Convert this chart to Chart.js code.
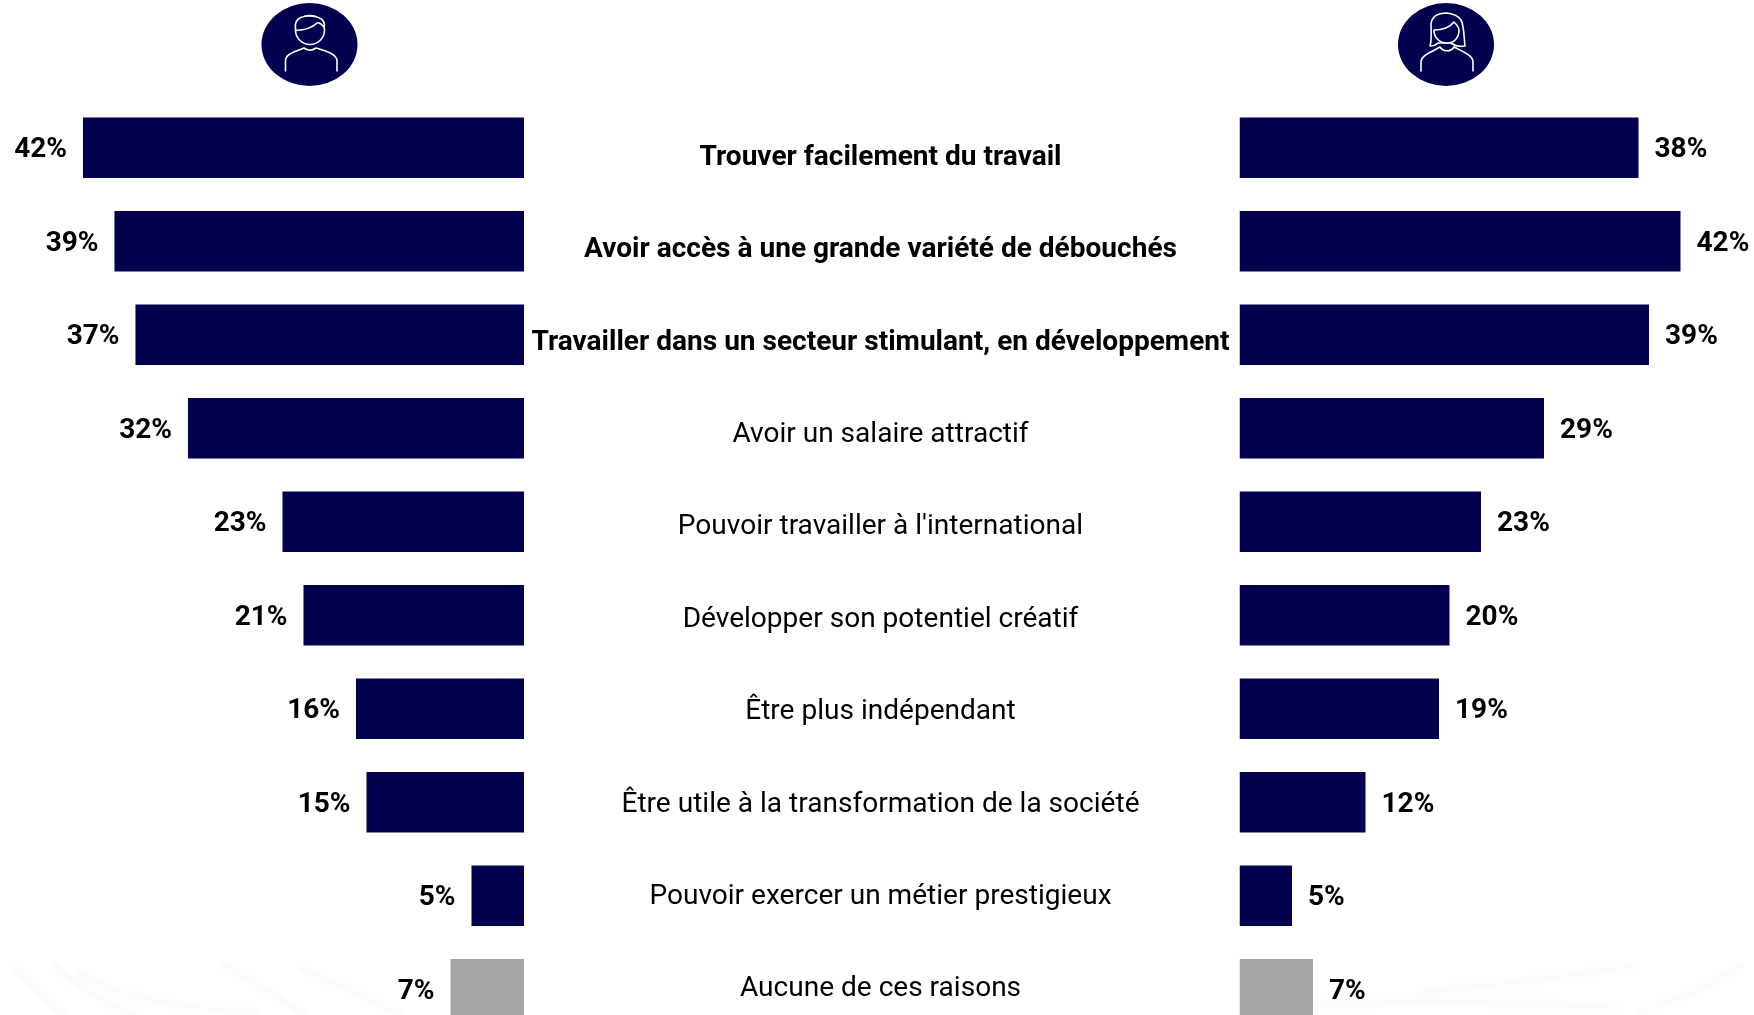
<!DOCTYPE html>
<html lang="fr">
<head>
<meta charset="utf-8">
<title>Raisons</title>
<script src="https://cdn.jsdelivr.net/npm/chart.js@4/dist/chart.umd.min.js"></script>
<style>
  html, body { margin: 0; padding: 0; background: #fff; }
  #page { position: relative; width: 1754px; height: 1015px; overflow: hidden; background: #fff; }
  #decor { position: absolute; left: 0; top: 0; }
  .box { position: absolute; top: 101px; height: 935px; }
</style>
</head>
<body>
<div id="page">
  <svg id="decor" width="1754" height="1015" fill="none" stroke="#fff" stroke-width="1.6" stroke-linecap="round" stroke-linejoin="round">
    <!-- filigrane du bas -->
    <filter id="flou"><feGaussianBlur stdDeviation="2"/></filter>
    <g stroke="#fafafa" stroke-width="7" filter="url(#flou)">
      <path d="M15 968 C30 985 45 1002 65 1015"/>
      <path d="M55 965 C75 985 105 1003 135 1015"/>
      <path d="M80 972 C120 1000 190 1008 255 1013"/>
      <path d="M225 966 C262 985 285 1003 305 1015"/>
      <path d="M300 968 C340 985 375 1003 400 1015"/>
      <path d="M1310 1006 C1400 1000 1520 1002 1620 1008"/>
      <path d="M1420 992 C1500 985 1570 976 1630 966"/>
      <path d="M1640 1012 C1680 1000 1710 985 1740 965"/>
    </g>
    <!-- homme -->
    <ellipse cx="309.5" cy="44.5" rx="48" ry="41.5" fill="#03004f" stroke="none"/>
    <circle cx="310" cy="30" r="14.5"/>
    <path d="M296 30.5 C293 20 300 16 309 16 C319 16 326 20 324 27 C321 24 319 22 317 23 C312 28 304 30 296 30.5Z" fill="#03004f"/>
    <path d="M285.5 71 V61 C285.5 54 294 52 304 48 C308 51 312 51 316 48 C326 51 337 54 337 61 V71"/>
    <!-- femme -->
    <ellipse cx="1446" cy="44.5" rx="48" ry="41.5" fill="#03004f" stroke="none"/>
    <path d="M1430 46 C1432 40 1431 28 1431 24 C1432 15 1440 13 1447 13 C1455 14 1459 17 1461 20 C1464 25 1464 38 1465 46 C1460 47 1455 46 1451 43 H1438 C1436 45 1433 46 1430 46Z"/>
    <path d="M1434 30 C1442 30 1450 27 1454 22 C1457 25 1459 28 1459 30 C1459 38 1454 43 1447 43 C1440 43 1434 38 1434 30Z" fill="#03004f"/>
    <path d="M1421 71 V62 C1421 55 1432 52 1440 47 C1443 52 1451 52 1454 47 C1461 51 1473 55 1473 62 V71"/>
  </svg>
  <div class="box" style="left:0;width:524px"><canvas id="leftChart"></canvas></div>
  <div class="box" style="left:524px;width:1230px"><canvas id="rightChart"></canvas></div>
</div>
<script>
// ===== DATA =====
const raisons = [
  'Trouver facilement du travail',
  'Avoir accès à une grande variété de débouchés',
  'Travailler dans un secteur stimulant, en développement',
  'Avoir un salaire attractif',
  "Pouvoir travailler à l'international",
  'Développer son potentiel créatif',
  'Être plus indépendant',
  'Être utile à la transformation de la société',
  'Pouvoir exercer un métier prestigieux',
  'Aucune de ces raisons'
];
const hommes = [42, 39, 37, 32, 23, 21, 16, 15, 5, 7];
const femmes = [38, 42, 39, 29, 23, 20, 19, 12, 5, 7];
const nbGras = 3; // les 3 premières raisons sont en gras

const NAVY = '#03004f';
const GREY = '#a6a6a6';
const barColors = raisons.map((r, i) => i === raisons.length - 1 ? GREY : NAVY);
const FONT = 'Roboto, sans-serif';

// affiche la valeur au bout de chaque barre
const valueLabels = {
  id: 'valueLabels',
  afterDatasetsDraw(chart) {
    const { ctx } = chart;
    const reversed = chart.scales.x.options.reverse;
    const data = chart.data.datasets[0].data;
    ctx.save();
    ctx.font = '700 28px ' + FONT;
    ctx.fillStyle = '#000';
    ctx.textBaseline = 'middle';
    ctx.textAlign = reversed ? 'right' : 'left';
    chart.getDatasetMeta(0).data.forEach((bar, i) => {
      ctx.fillText(data[i] + '%', bar.x + (reversed ? -16 : 16), bar.y + 2.5);
    });
    ctx.restore();
  }
};

function barOptions(maxX, reversed) {
  return {
    indexAxis: 'y',
    responsive: true,
    maintainAspectRatio: false,
    animation: false,
    layout: { padding: 0 },
    plugins: { legend: { display: false }, tooltip: { enabled: false } },
    scales: {
      x: { min: 0, max: maxX, reverse: reversed, display: false },
      y: { display: false, offset: true }
    }
  };
}

function dataset(values) {
  return {
    labels: raisons,
    datasets: [{
      data: values,
      backgroundColor: barColors,
      categoryPercentage: 1,
      barPercentage: 0.646
    }]
  };
}

new Chart(document.getElementById('leftChart'), {
  type: 'bar',
  data: dataset(hommes),
  options: barOptions(49.9, true),
  plugins: [valueLabels]
});

const rightOptions = barOptions(49, false);
// axe de texte au centre : il a son propre pas, un peu plus serré que celui des barres
rightOptions.scales.yText = {
  type: 'linear',
  position: 'left',
  reverse: true,
  offset: false, // sinon le défaut "bar" ajoute une demi-case de chaque côté
  min: -0.615,
  max: 9.504,
  border: { display: false },
  grid: { display: false, drawTicks: false },
  afterBuildTicks: axis => { axis.ticks = raisons.map((r, i) => ({ value: i })); },
  afterFit: axis => {
    axis.width = 715.5;
    axis.paddingTop = 0;
    axis.paddingBottom = 0;
  },
  ticks: {
    autoSkip: false,
    maxRotation: 0,
    crossAlign: 'center',
    padding: 10,
    color: '#000',
    font: c => ({ family: FONT, size: 28.05, weight: c.index < nbGras ? '700' : '400' }),
    callback: v => raisons[v]
  }
};

new Chart(document.getElementById('rightChart'), {
  type: 'bar',
  data: dataset(femmes),
  options: rightOptions,
  plugins: [valueLabels]
});
</script>
</body>
</html>
